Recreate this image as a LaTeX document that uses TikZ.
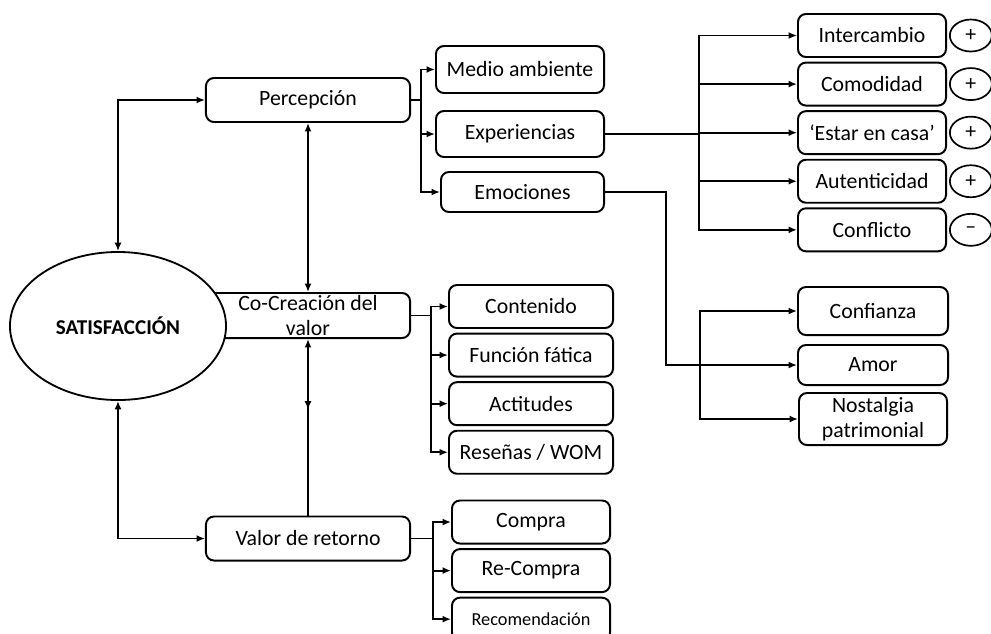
\documentclass[tikz,border=0pt]{standalone}
\usepackage{fontspec}
\setmainfont{Carlito}
\usetikzlibrary{shapes.geometric, arrows.meta, positioning, decorations.markings}

\begin{document}
\begin{tikzpicture}[
      x=0.025cm, y=-0.025cm,
      node distance=0.09cm,
      core/.style={ellipse, draw=black, fill=white, line width=1.3pt, minimum width=5.4cm, minimum height=3.7cm, font=\bfseries\fontsize{15}{18}\selectfont},
      dimension/.style={rectangle, rounded corners=0.2cm, draw=black, fill=white, line width=1.4pt, minimum width=5.1cm, minimum height=1.1cm, align=center, inner sep=1pt, font=\fontsize{15.5}{18}\selectfont},
      factor/.style={rectangle, rounded corners=0.2cm, draw=black, fill=white, line width=1.4pt, minimum width=3.7cm, minimum height=1.075cm, align=center, inner sep=1pt, font=\fontsize{15.5}{18}\selectfont},
      sign/.style={ellipse, draw=black, line width=1.2pt, minimum width=1.05cm, minimum height=0.8cm, inner sep=0pt, font=\fontsize{15.5}{18}\selectfont},
      link/.style={line width=1.3pt, draw=black},
      arrow/.style={-{Latex[length=6pt, width=5pt]}, line width=1.3pt, draw=black},
      biarrow/.style={{Latex[length=6pt, width=5pt]}-{Latex[length=6pt, width=5pt]}, line width=1.3pt, draw=black},
      midback/.style={postaction={decorate, decoration={markings, mark=at position 0.6 with {\arrowreversed{Latex[length=6pt, width=5pt]}}}}}
  ]
  \useasboundingbox (0,0) rectangle (991,633);
  \clip (0,0) rectangle (991,633);

  % main dimensions
  \node[dimension] (perc) at (308,100) {Percepción};
  \node[dimension, minimum height=1.125cm, label={[align=center, font=\fontsize{15.5}{18}\selectfont]center:Co-Creación del\\valor}] (cocrea) at (308,315.5) {};
  \node[dimension] (valor) at (308,538.5) {Valor de retorno};
  \node[core] (sat) at (118,326) {SATISFACCIÓN};

  % perception factors
  \node[factor, minimum width=4.2cm, minimum height=1.175cm] (medio) at (520,69.5) {Medio ambiente};
  \node[factor, minimum width=4.2cm, minimum height=1.15cm] (exper) at (520,134) {Experiencias};
  \node[factor, minimum width=4.075cm, minimum height=1cm] (emoc) at (522.5,192) {Emociones};

  % experiences
  \node[factor] (interc) at (872,35.5) {Intercambio};
  \node[factor] (comod) [below=of interc] {Comodidad};
  \node[factor] (casa) [below=of comod] {‘Estar en casa’};
  \node[factor] (autent) [below=of casa] {Autenticidad};
  \node[factor] (confl) [below=of autent] {Conflicto};

  \node[sign] (sgnA) [right=0.05cm of interc] {+};
  \node[sign] (sgnB) [right=0.05cm of comod] {+};
  \node[sign] (sgnC) [right=0.05cm of casa] {+};
  \node[sign] (sgnD) [right=0.05cm of autent] {+};
  \node[sign] (sgnE) [right=0.05cm of confl] {--};

  % emotions
  \node[factor, minimum width=3.75cm, minimum height=1.2cm] (confi) at (873,311) {Confianza};
  \node[factor, minimum width=3.75cm, minimum height=1cm] (amor) at (873,365) {Amor};
  \node[factor, minimum width=3.7cm, minimum height=1.3cm] (nostal) at (873,419) {Nostalgia\\patrimonial};

  % co-creation factors
  \node[factor, minimum width=4.1cm] (conten) at (531,306.5) {Contenido};
  \node[factor, minimum width=4.1cm] (fatica) [below=of conten] {Función fática};
  \node[factor, minimum width=4.1cm] (actit) [below=of fatica] {Actitudes};
  \node[factor, minimum width=4.1cm] (resena) [below=of actit] {Reseñas / WOM};

  % return value
  \node[factor, minimum width=3.95cm] (compra) at (531,522) {Compra};
  \node[factor, minimum width=3.95cm] (recompra) [below=of compra] {Re-Compra};
  \node[factor, minimum width=3.95cm, font=\fontsize{13}{16}\selectfont] (recom) [below=of recompra] {Recomendación};

  \draw[biarrow] (sat.north) |- (perc.west);
  \draw[biarrow] (sat.south) |- (valor.west);
  \draw[biarrow] (perc.south) -- (cocrea.north);
  \draw[arrow, midback] (valor.north) -- (cocrea.south);

  \coordinate (pfork) at (421,100);
  \draw[link] (perc.east) -- (pfork);
  \draw[arrow] (pfork) |- (medio.west);
  \draw[arrow] (pfork) |- (exper.west);
  \draw[arrow] (pfork) |- (emoc.west);

  \draw[link] (exper.east) -- ++(94,0) coordinate (efork);
  \draw[arrow] (efork) |- (interc.west);
  \draw[arrow] (efork) |- (comod.west);
  \draw[arrow] (efork) |- (casa.west);
  \draw[arrow] (efork) |- (autent.west);
  \draw[arrow] (efork) |- (confl.west);

  \draw[arrow] (emoc.east) -- ++(61,0) |- (amor.west);
  \coordinate (afork) at (700,365);
  \draw[arrow] (afork) |- (confi.west);
  \draw[arrow] (afork) |- (nostal.west);

  \draw[link] (cocrea.east) -- ++(20,0) coordinate (cfork);
  \draw[arrow] (cfork) |- (conten.west);
  \draw[arrow] (cfork) |- (fatica.west);
  \draw[arrow] (cfork) |- (actit.west);
  \draw[arrow] (cfork) |- (resena.west);

  \draw[link] (valor.east) -- ++(22,0) coordinate (vfork);
  \draw[arrow] (vfork) |- (compra.west);
  \draw[arrow] (vfork) |- (recompra.west);
  \draw[arrow] (vfork) |- (recom.west);

\end{tikzpicture}
\end{document}
